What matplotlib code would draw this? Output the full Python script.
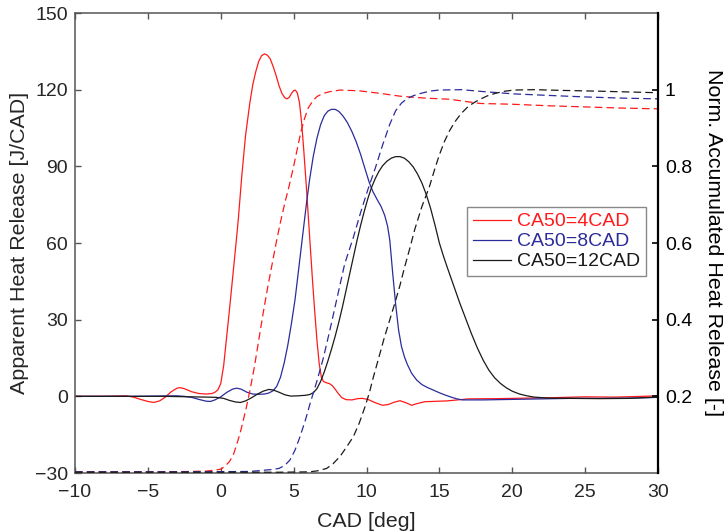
import matplotlib
matplotlib.use("Agg")
import matplotlib.pyplot as plt

plt.rcParams['font.family'] = ['Liberation Sans', 'DejaVu Sans']
plt.rcParams['lines.scale_dashes'] = False

# ---- data ----
labels = ["CA50=4CAD", "CA50=8CAD", "CA50=12CAD"]
colors = ["#ff1a1a", "#2b2b9c", "#1a1a1a"]

# Apparent heat release [J/CAD] (left axis)
red_x = [-10, -8, -6.5, -6.0, -5.5, -5.0, -4.6, -4.2, -3.8, -3.4, -3.0, -2.8, -2.5, -2.0, -1.5,
         -1.0, -0.6, -0.4, -0.2, 0.0, 0.2, 0.4, 0.6, 0.86, 1.05, 1.2, 1.44, 1.7, 2.0, 2.2, 2.4,
         2.6, 2.8, 3.0, 3.2, 3.4, 3.6, 3.8, 4.0, 4.2, 4.4, 4.55, 4.7, 4.85, 5.0, 5.12, 5.25, 5.4,
         5.55, 5.7, 5.85, 6.0, 6.15, 6.3, 6.45, 6.6, 6.75, 6.9, 7.05, 7.25, 7.45, 7.65, 7.85,
         8.05, 8.3, 8.6, 9.0, 9.4, 9.7, 10.1, 10.6, 11.1, 11.5, 11.9, 12.3, 12.7, 13.1, 13.5, 14.0,
         14.5, 15.5, 17, 19, 21, 23, 25, 27, 29, 30]
red_y = [0, 0, 0.2, -0.3, -1.2, -2.0, -2.4, -1.8, -0.3, 1.8, 3.2, 3.4, 3.0, 1.8, 1.1,
         0.9, 1.1, 1.6, 2.5, 5, 12, 23, 34, 49, 60, 69, 86, 102, 115, 122, 127,
         131, 133.3, 134, 133.5, 132, 129, 125.5, 121.5, 118.5, 116.8, 116.4, 117, 118.5, 119.6,
         119.8, 118.8, 115, 107, 96, 84, 71, 58, 45, 33, 22, 13, 7.5, 5.8, 5.3, 5.0, 4.2, 2.8,
         1.2, -0.5, -1.3, -1.4, -0.9, -0.8, -1.2, -2.5, -3.5, -3.2, -2.3, -1.7, -2.5, -3.5, -2.8,
         -2.1, -2.0, -1.8, -1.0, -0.9, -0.7, -0.5, -0.2, -0.3, 0.0, 0.2]

blue_x = [-10, -6, -3, -2.5, -2, -1.5, -1.0, -0.7, -0.4, 0.0, 0.4, 0.8, 1.1, 1.4, 1.8, 2.2, 2.6,
          3.0, 3.3, 3.6, 3.85, 4.1, 4.35, 4.6, 4.85, 5.1, 5.35, 5.6, 5.85, 6.1, 6.35, 6.6, 6.85,
          7.1, 7.35, 7.6, 7.85, 8.1, 8.4, 8.7, 9.0, 9.3, 9.6, 9.9, 10.2, 10.45, 10.75, 11.0, 11.25,
          11.45, 11.6, 11.8, 12.0, 12.2, 12.4, 12.6, 12.8, 13.1, 13.44, 13.8, 14.2, 14.6, 15.0,
          15.4, 15.8, 16.2, 16.6, 18, 20, 22, 24, 26, 28, 30]
blue_y = [0, 0, 0.2, 0, -0.4, -1.2, -1.9, -2.0, -1.4, -0.2, 1.5, 2.8, 3.2, 2.8, 1.6, 0.9, 0.8,
          0.9, 1.3, 2.2, 4.0, 7.5, 13, 20, 28.5, 38, 50, 62, 74, 85, 94, 101, 106.3,
          109.8, 111.6, 112.3, 112.3, 111.5, 109.6, 107, 103.6, 99.5, 94.6, 89, 83.5, 80, 76.8,
          74.3, 70.8, 66.5, 61, 48, 36, 26, 19.5, 15.5, 12.5, 9, 6.4, 4.6, 3.4, 2.4, 1.4,
          0.5, -0.3, -1.0, -1.4, -1.4, -1.2, -1.0, -0.8, -0.8, -0.7, -0.4]

black_x = [-10, -4, -2, -1, -0.3, 0.2, 0.6, 1.0, 1.35, 1.7, 2.1, 2.5, 2.9, 3.3, 3.6, 4.0, 4.4,
           4.8, 5.3, 5.8, 6.1, 6.35, 6.6, 6.85, 7.1, 7.35, 7.6, 7.85, 8.1, 8.35, 8.6, 8.85, 9.1,
           9.35, 9.6, 9.85, 10.1, 10.35, 10.6, 10.85, 11.1, 11.4, 11.7, 12.0, 12.3, 12.6, 12.9,
           13.2, 13.5, 13.8, 14.1, 14.4, 14.7, 15.0, 15.3, 15.6, 16.0, 16.4, 16.8, 17.2, 17.6,
           18.0, 18.4, 18.8, 19.2, 19.6, 20.0, 20.5, 21.0, 21.5, 22.5, 24, 26, 28, 30]
black_y = [0, 0, -0.2, -0.3, -0.4, -0.8, -1.6, -2.2, -2.4, -1.8, -0.6, 0.8, 2.0, 2.7, 2.5, 1.6,
           0.6, 0.1, 0.2, 0.4, 0.7, 1.4, 3.0, 5.8, 9.5, 13.8, 18.5, 23.5, 29, 35, 41.5, 48, 54.5,
           61, 67, 72.5, 77.5, 81.8, 85.2, 88, 90.2, 92, 93.2, 93.8, 93.8, 93.2, 91.8,
           89.8, 87, 83.5, 79, 73.5, 67, 60, 54.5, 49.5, 43, 36.5, 30.5, 24.5, 19,
           14.2, 10.2, 7.2, 5.0, 3.3, 2.0, 0.9, 0.2, -0.3, -0.7, -0.8, -0.9, -0.8, -0.3]

# Normalised accumulated heat release [-] (right axis)
red_cx = [-10, -4, -2, -1, -0.5, 0.0, 0.3, 0.6, 0.86, 1.1, 1.3, 1.5, 1.75, 2.0, 2.3, 2.6, 2.9,
          3.2, 3.5, 3.8, 4.1, 4.4, 4.7, 5.0, 5.25, 5.5, 5.75, 6.0, 6.3, 6.6, 7.0, 7.5, 8.2, 9.5,
          11, 12.3, 14, 15.7, 17.8, 20, 22.5, 25, 27.5, 30]
red_cy = [0.003, 0.003, 0.004, 0.005, 0.007, 0.01, 0.018, 0.03, 0.047, 0.075, 0.1, 0.13, 0.17,
          0.215, 0.275, 0.345, 0.415, 0.48, 0.54, 0.6, 0.655, 0.705, 0.75, 0.8, 0.845, 0.89,
          0.925, 0.952, 0.97, 0.982, 0.99, 0.995, 0.999, 0.997, 0.99, 0.983, 0.978, 0.975, 0.964,
          0.962, 0.958, 0.955, 0.952, 0.95]

blue_cx = [-10, -2, 2, 3.5, 4.0, 4.4, 4.75, 5.1, 5.44, 5.8, 6.12, 6.6, 7.04, 7.5, 8.0, 8.5, 9.1,
           9.6, 10.1, 10.6, 11.1, 11.6, 12.0, 12.4, 12.8, 13.2, 13.6, 14.0, 14.5, 15.0, 16.5, 18,
           20.1, 22.5, 25, 27.5, 30]
blue_cy = [0.003, 0.003, 0.004, 0.009, 0.012, 0.02, 0.034, 0.06, 0.095, 0.137, 0.18, 0.24, 0.3,
           0.375, 0.46, 0.545, 0.615, 0.68, 0.74, 0.795, 0.855, 0.91, 0.945, 0.965, 0.977, 0.984,
           0.989, 0.993, 0.997, 0.999, 1.0, 0.995, 0.989, 0.985, 0.981, 0.978, 0.976]

black_cx = [-10, 0, 4, 6.1, 6.7, 7.27, 7.7, 8.18, 8.6, 9.1, 9.5, 9.9, 10.2, 10.47, 10.8, 11.2,
            11.6, 11.96, 12.3, 12.6, 13.0, 13.3, 13.8, 14.3, 14.7, 15.0, 15.35, 15.7, 16.1, 16.5,
            17.0, 17.5, 17.8, 18.3, 18.9, 19.5, 20.1, 21.5, 23.5, 26, 28, 30]
black_cy = [0.002, 0.002, 0.002, 0.003, 0.006, 0.012, 0.024, 0.043, 0.066, 0.095, 0.13, 0.173,
            0.21, 0.25, 0.295, 0.35, 0.4, 0.445, 0.49, 0.535, 0.59, 0.634, 0.695, 0.745, 0.795,
            0.83, 0.865, 0.893, 0.918, 0.938, 0.957, 0.969, 0.975, 0.984, 0.991, 0.996, 0.999,
            1.0, 0.998, 0.996, 0.994, 0.992]

x_ticks = [-10, -5, 0, 5, 10, 15, 20, 25, 30]
yl_ticks = [-30, 0, 30, 60, 90, 120, 150]
yr_ticks = [0.2, 0.4, 0.6, 0.8, 1.0]
yr_ticklabels = ["0.2", "0.4", "0.6", "0.8", "1"]

# ---- figure ----
W, H = 725, 531
fig = plt.figure(figsize=(W / 100, H / 100), dpi=100)
L, R, T, B = 75, 658, 13, 473
ax = fig.add_axes([L / W, 1 - B / H, (R - L) / W, (B - T) / H])
ax2 = ax.twinx()

text_c = "#262626"
spine_c = "#555555"
lw = 0.9

h = []
for xs, ys, c, lab in [(red_x, red_y, colors[0], labels[0]),
                       (blue_x, blue_y, colors[1], labels[1]),
                       (black_x, black_y, colors[2], labels[2])]:
    ln, = ax.plot(xs, ys, color=c, lw=lw, label=lab)
    h.append(ln)

for xs, ys, c in [(red_cx, red_cy, colors[0]), (blue_cx, blue_cy, colors[1]),
                  (black_cx, black_cy, colors[2])]:
    ax2.plot(xs, ys, color=c, lw=lw, linestyle=(0, (5.5, 3)))

ax.set_xlim(-10, 30)
ax.set_ylim(-30, 150)
ax2.set_ylim(0, 1.2)

ax.set_xticks(x_ticks)
ax.set_yticks(yl_ticks)
ax2.set_yticks(yr_ticks)
ax2.set_yticklabels(yr_ticklabels)

for s in ["left", "bottom", "top"]:
    ax.spines[s].set_color(spine_c)
    ax.spines[s].set_linewidth(1.1)
ax.spines["right"].set_visible(False)
for s in ["left", "bottom", "top"]:
    ax2.spines[s].set_visible(False)
ax2.spines["right"].set_color("black")
ax2.spines["right"].set_linewidth(1.6)

ax.tick_params(axis="x", direction="in", length=4, width=1.0, color=spine_c,
               labelsize=14, labelcolor=text_c, top=True, pad=8)
ax.tick_params(axis="y", direction="in", length=4, width=1.0, color=spine_c,
               labelsize=14, labelcolor=text_c, right=False, pad=5)
ax2.tick_params(axis="y", direction="in", length=4, width=1.2, color="black",
                labelsize=14, labelcolor="black", pad=5)

ax.set_xlabel("CAD [deg]", fontsize=15.4, color=text_c)
ax.set_ylabel("Apparent Heat Release [J/CAD]", fontsize=15.4, color=text_c, va="center")
ax2.set_ylabel("Norm. Accumulated Heat Release [-]", fontsize=15.4, color="black",
               rotation=270, va="center")
ax.xaxis.set_label_coords(0.5, -0.085)
ax.yaxis.set_label_coords((20 - L) / (R - L), 0.5)
ax2.yaxis.set_label_coords((714 - L) / (R - L), 0.5)

leg = ax2.legend(handles=h, loc="upper left", bbox_to_anchor=((466.7 - L) / (R - L), (B - 207) / (B - T)),
                 fontsize=14, labelcolor="linecolor", frameon=True, fancybox=False,
                 framealpha=1, edgecolor="#888888", borderpad=0.3, labelspacing=0.12,
                 handlelength=2.0, handletextpad=0.3, borderaxespad=0)
leg.get_frame().set_linewidth(1.0)

fig.savefig("out.png", dpi=100)
